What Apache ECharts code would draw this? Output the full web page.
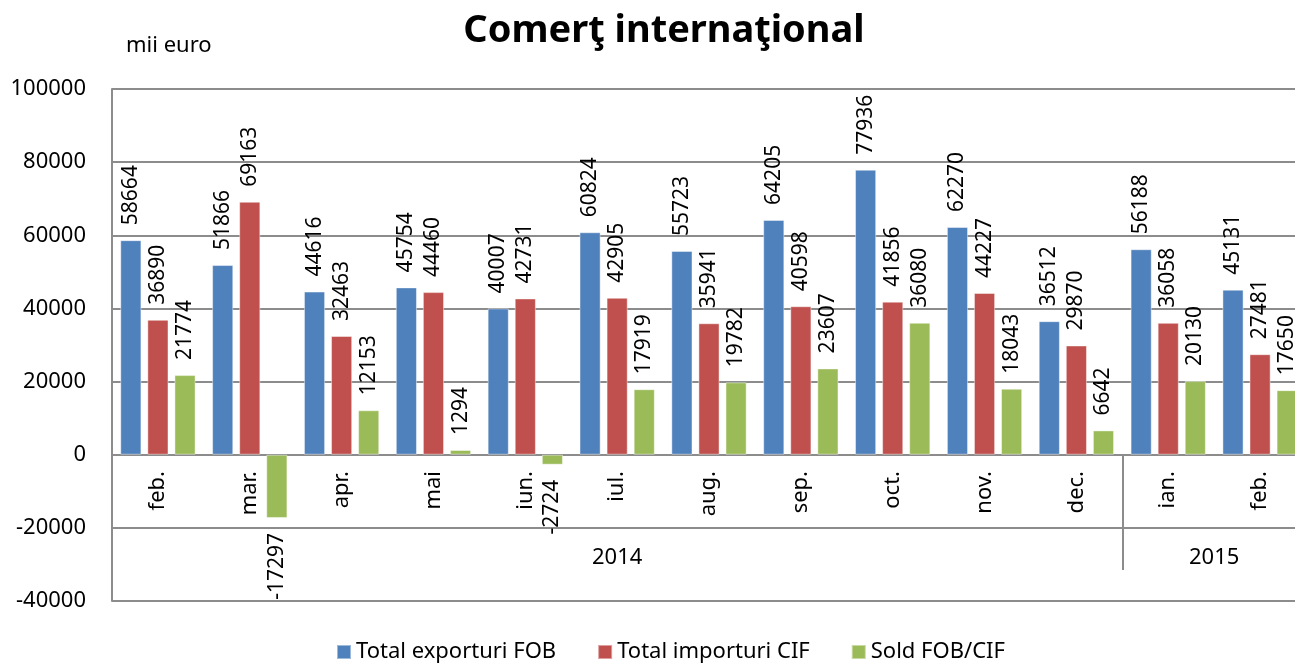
<!DOCTYPE html>
<html>
<head>
<meta charset="utf-8">
<script src="https://cdn.jsdelivr.net/npm/echarts@6/dist/echarts.min.js"></script>
<style>
  html, body { margin: 0; padding: 0; background: #fff; }
  #chart { width: 1295px; height: 664px; }
</style>
</head>
<body>
<div id="chart"></div>
<script>
const months = ["feb.", "mar.", "apr.", "mai", "iun.", "iul.", "aug.", "sep.", "oct.", "nov.", "dec.", "ian.", "feb."];
const years = ["2014", "2015"];
const yearSpans = [11, 2];
const exportsFob = [58664, 51866, 44616, 45754, 40007, 60824, 55723, 64205, 77936, 62270, 36512, 56188, 45131];
const importsCif = [36890, 69163, 32463, 44460, 42731, 42905, 35941, 40598, 41856, 44227, 29870, 36058, 27481];
const soldFobCif = [21774, -17297, 12153, 1294, -2724, 17919, 19782, 23607, 36080, 18043, 6642, 20130, 17650];

const font = "Noto Sans";
const gridColor = "#8c8c8c";
// distance from the bottom of the plot (-40000) up to the zero line
const zeroOffset = -146;

// year group boundaries (category index) and centres
const yearStarts = [];
const yearCentres = [];
let acc = 0;
yearSpans.forEach((n) => {
  yearStarts.push(acc);
  yearCentres.push(acc + n / 2);
  acc += n;
});

function barData(values) {
  return values.map((v) =>
    v < 0 ? { value: v, label: { align: "right" } } : v
  );
}

function barSeries(name, values, color) {
  return {
    name: name,
    type: "bar",
    barGap: "28%",
    barCategoryGap: "18%",
    itemStyle: { color: color, borderColor: "rgba(255,255,255,0.45)", borderWidth: 1 },
    label: {
      show: true,
      position: "outside",
      rotate: 90,
      align: "left",
      verticalAlign: "middle",
      distance: 15,
      color: "#000",
      fontFamily: font,
      fontSize: 21,
    },
    data: barData(values),
  };
}

const myChart = echarts.init(document.getElementById("chart"));
const option = {
  animation: false,
  title: {
    text: "Comerţ internaţional",
    left: 659,
    textAlign: "center",
    top: 7,
    textStyle: { fontFamily: font, fontWeight: "bold", fontSize: 38, color: "#000" },
  },
  graphic: [
    {
      type: "text",
      left: 126,
      top: 35,
      style: { text: "mii euro", font: "22px 'Noto Sans'", fill: "#000" },
    },
  ],
  legend: {
    top: 636,
    left: 331,
    itemWidth: 14,
    itemHeight: 14,
    itemGap: 41,
    icon: "rect",
    textStyle: { fontFamily: font, fontSize: 22, color: "#000" },
    data: ["Total exporturi FOB", "Total importuri CIF", "Sold FOB/CIF"],
  },
  grid: {
    left: 112,
    right: -11,
    top: 89,
    bottom: 63,
    containLabel: false,
    outerBoundsMode: "none",
  },
  xAxis: [
    {
      type: "category",
      data: months,
      position: "bottom",
      offset: zeroOffset,
      axisLine: { onZero: false, lineStyle: { color: gridColor, width: 2 } },
      axisTick: {
        show: true,
        length: 115,
        interval: (index) => yearStarts.indexOf(index) >= 0,
        lineStyle: { color: gridColor, width: 2 },
      },
      axisLabel: {
        interval: 0,
        rotate: 90,
        margin: 16,
        color: "#000",
        fontFamily: font,
        fontSize: 22,
      },
    },
    {
      type: "value",
      min: 0,
      max: months.length,
      position: "bottom",
      offset: zeroOffset,
      axisLine: { show: false, onZero: false },
      axisTick: { show: false },
      splitLine: { show: false },
      axisLabel: {
        customValues: yearCentres,
        formatter: (v) => years[yearCentres.indexOf(v)],
        margin: 92,
        color: "#000",
        fontFamily: font,
        fontSize: 22,
      },
    },
  ],
  yAxis: {
    type: "value",
    min: -40000,
    max: 100000,
    interval: 20000,
    axisLine: { show: true, onZero: false, lineStyle: { color: gridColor, width: 2 } },
    axisTick: { show: false },
    splitLine: { lineStyle: { color: gridColor, width: 2 } },
    axisLabel: {
      margin: 26,
      color: "#000",
      fontFamily: font,
      fontSize: 22,
      formatter: (v) => String(v),
    },
  },
  series: [
    barSeries("Total exporturi FOB", exportsFob, "#4f81bd"),
    barSeries("Total importuri CIF", importsCif, "#c0504d"),
    barSeries("Sold FOB/CIF", soldFobCif, "#9bbb59"),
  ],
};
myChart.setOption(option, true);
window.addEventListener("resize", function () {
  myChart.resize();
});
</script>
</body>
</html>
